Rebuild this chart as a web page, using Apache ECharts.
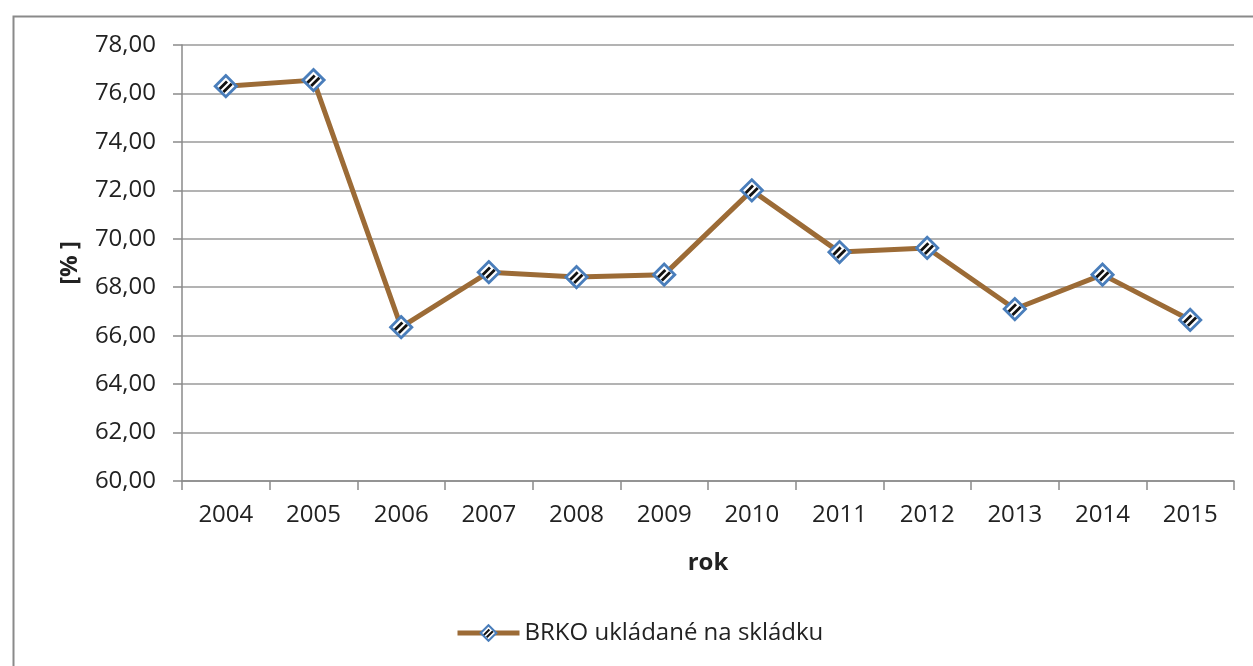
<!DOCTYPE html>
<html><head><meta charset="utf-8">
<script src="https://cdn.jsdelivr.net/npm/echarts@6/dist/echarts.min.js"></script>
<style>html,body{margin:0;padding:0;background:#fff}#c{width:1253px;height:666px}</style>
</head><body><div id="c"></div>
<script>
const categories = ['2004','2005','2006','2007','2008','2009','2010','2011','2012','2013','2014','2015'];
const seriesName = 'BRKO ukládané na skládku';
const values = [76.30, 76.55, 66.35, 68.62, 68.42, 68.52, 72.00, 69.45, 69.62, 67.10, 68.52, 66.65];
const yTicks = { min: 60, max: 78, interval: 2 };

const svg = '<svg xmlns="http://www.w3.org/2000/svg" width="22" height="22" viewBox="0 0 22 22">' +
  '<defs><clipPath id="d"><polygon points="11,2 20,11 11,20 2,11"/></clipPath></defs>' +
  '<polygon points="11,2 20,11 11,20 2,11" fill="#ffffff"/>' +
  '<g clip-path="url(#d)" stroke="#111" stroke-width="2.4">' +
  '<line x1="5" y1="14" x2="12" y2="7"/><line x1="9" y1="16" x2="16" y2="9"/></g>' +
  '<polygon points="11,2 20,11 11,20 2,11" fill="none" stroke="#4A7EBB" stroke-width="2.4"/></svg>';
const markerSymbol = 'image://data:image/svg+xml;charset=utf-8,' + encodeURIComponent(svg);

const chart = echarts.init(document.getElementById('c'));
const font = 'Open Sans';
const fs = 24;
chart.setOption({
  animation: false,
  backgroundColor: '#ffffff',
  graphic: [{
    type: 'rect', left: 11, top: 14, shape: { width: 1300, height: 700 },
    style: { fill: 'none', stroke: '#8a8a8a', lineWidth: 2 }, silent: true, z: -1
  }],
  grid: { left: 182, right: 19, top: 45, bottom: 185 },
  legend: {
    bottom: 16, left: 450,
    itemWidth: 62, itemHeight: 24, itemGap: 6,
    textStyle: { fontFamily: font, fontSize: fs, color: '#222' },
    lineStyle: { width: 5 },
    data: [seriesName]
  },
  xAxis: {
    type: 'category', data: categories, boundaryGap: true,
    name: 'rok', nameLocation: 'middle', nameGap: 70,
    nameTextStyle: { fontFamily: font, fontSize: fs, fontWeight: 'bold', color: '#222' },
    axisLine: { lineStyle: { color: '#8a8a8a', width: 1.5 } },
    axisTick: { show: true, length: 9, alignWithLabel: false, lineStyle: { color: '#8a8a8a', width: 1.5 } },
    axisLabel: { fontFamily: font, fontSize: fs, color: '#222', margin: 22 },
    splitLine: { show: false }
  },
  yAxis: {
    type: 'value', min: yTicks.min, max: yTicks.max, interval: yTicks.interval,
    name: '[% ]', nameLocation: 'middle', nameGap: 100, nameRotate: 90,
    nameTextStyle: { fontFamily: font, fontSize: fs, fontWeight: 'bold', color: '#222' },
    axisLine: { show: true, lineStyle: { color: '#8a8a8a', width: 1.5 } },
    axisTick: { show: true, length: 9, lineStyle: { color: '#8a8a8a', width: 1.5 } },
    axisLabel: { fontFamily: font, fontSize: fs, color: '#222', margin: 26,
      formatter: v => v.toFixed(2).replace('.', ',') },
    splitLine: { show: true, lineStyle: { color: '#9a9a9a', width: 1.5 } }
  },
  series: [{
    name: seriesName, type: 'line', data: values,
    symbol: markerSymbol, symbolSize: 26,
    lineStyle: { color: '#9C6B36', width: 5 },
    itemStyle: { color: '#9C6B36' }
  }]
});
</script></body></html>
